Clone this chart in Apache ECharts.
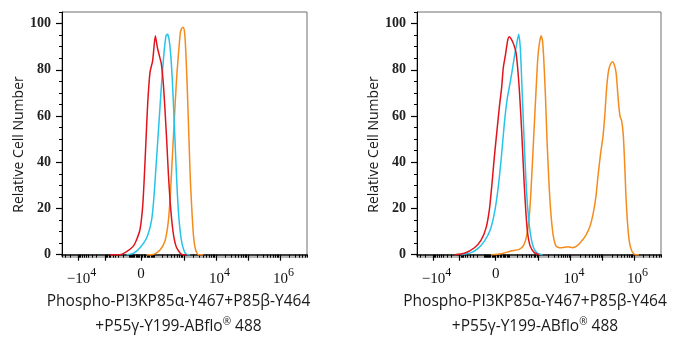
<!DOCTYPE html>
<html>
<head>
    <meta charset="UTF-8">
    <title>Flow histogram</title>
    <script src="https://cdn.jsdelivr.net/npm/echarts@6/dist/echarts.min.js"></script>
    <style>
        html, body { margin: 0; padding: 0; background: #fff; }
        #chart { width: 676px; height: 350px; }
    </style>
</head>
<body>
<div id="chart"></div>
<script>
    // x values are display channels (0-1024, biexponential scale), y is relative cell number
    var leftRed = [[200.6,0],[242.4,0],[270.3,1.3],[298.2,3.7],[312.1,6.6],[326.0,10.9],[337.2,20.9],[344.1,33.8],[351.1,49.6],[358.1,65.3],[367.8,78.9],[379.0,84.0],[390.1,94.7],[398.5,89.7],[406.9,86.1],[415.2,82.5],[423.6,73.9],[430.5,62.5],[437.5,49.6],[444.5,35.2],[451.4,23.8],[459.8,13.8],[468.2,7.3],[479.3,3.0],[500.2,0.1],[521.1,0]];
    var leftCyan = [[270.3,0],[298.2,0.6],[326.0,3.0],[353.9,7.3],[374.8,15.2],[384.5,25.2],[392.9,38.1],[401.3,51.0],[409.6,63.9],[418.0,76.8],[426.4,87.5],[434.7,94.7],[440.3,95.4],[447.3,93.3],[454.2,86.8],[461.2,75.4],[468.2,59.6],[475.1,42.4],[482.1,26.6],[489.1,15.2],[497.4,7.3],[507.2,2.6],[521.1,0.1],[535.0,0]];
    var leftOrange = [[353.9,0],[381.7,0.1],[409.6,2.0],[430.5,5.9],[444.5,14.5],[452.8,25.9],[459.8,39.5],[466.8,53.2],[473.7,66.8],[480.7,78.9],[489.1,89.7],[494.7,96.1],[503.0,98.3],[508.6,98.3],[514.1,94.0],[519.7,82.5],[525.3,66.8],[530.8,49.6],[536.4,32.4],[543.4,18.1],[550.4,7.3],[558.7,2.0],[569.9,0],[590.8,0]];

    var rightRed = [[157.5,0],[199.3,0.6],[241.1,3.0],[269.0,6.3],[289.9,11.6],[303.8,19.5],[313.6,29.5],[324.7,42.4],[335.8,53.9],[345.6,63.9],[355.4,72.5],[362.3,81.1],[370.7,86.1],[380.4,92.6],[387.4,94.3],[395.7,93.3],[405.5,91.1],[415.2,87.5],[422.2,81.1],[429.2,71.8],[436.2,59.6],[443.1,45.3],[450.1,30.2],[457.1,18.1],[464.0,9.5],[475.2,3.7],[491.9,0.9],[512.8,0]];
    var rightCyan = [[185.4,0],[227.2,0.9],[255.0,2.6],[282.9,5.9],[308.0,10.9],[327.5,19.5],[342.8,30.9],[355.4,43.8],[366.5,56.7],[377.7,66.8],[387.4,72.5],[397.2,78.2],[408.3,85.4],[418.1,91.1],[426.4,95.4],[433.4,89.7],[438.9,76.8],[444.5,62.5],[450.1,48.1],[457.1,32.4],[464.0,20.9],[475.2,9.5],[489.1,3.0],[505.8,0.6],[526.7,0]];
    var rightOrange = [[310.8,0],[352.6,0.4],[394.4,1.6],[429.2,2.3],[447.3,4.0],[461.2,8.7],[472.4,18.1],[479.3,29.5],[486.3,43.8],[493.3,58.2],[500.3,72.5],[507.2,85.4],[514.2,91.8],[521.1,94.7],[526.7,92.6],[532.3,84.0],[539.2,68.2],[546.2,48.1],[554.6,29.5],[562.9,16.6],[572.7,7.7],[583.8,3.7],[600.6,3.0],[617.3,3.2],[634.0,3.4],[652.1,3.0],[670.2,3.7],[686.9,5.4],[707.8,8.3],[726.0,12.3],[739.9,18.1],[751.0,25.2],[760.8,35.2],[770.6,43.8],[780.3,51.0],[788.7,61.0],[795.6,71.8],[804.0,79.7],[812.4,82.5],[820.7,83.5],[829.1,81.8],[836.1,78.2],[841.6,71.1],[847.2,63.9],[852.8,59.6],[858.3,58.2],[865.3,52.4],[870.9,41.0],[876.4,26.6],[883.4,13.8],[891.8,5.2],[901.5,1.6],[914.1,0.1],[930.8,0]];

    // axis ticks (fluorescence values) and labels
    var majorTickValues = [-1e4, -1e3, 0, 1e3, 1e4, 1e5, 1e6];
    var decades = [10, 100, 1000, 10000, 100000, 1000000];
    var labelValues = [-1e4, 0, 1e4, 1e6];
    var labelTexts = ['{p| }{b|\u221210}{s|4}', '{b|0}', '{p| }{b|10}{s|4}', '{p| }{b|10}{s|6}'];
    var yTickValues = [0, 20, 40, 60, 80, 100];
    var yMinorValues = [5, 10, 15, 25, 30, 35, 45, 50, 55, 65, 70, 75, 85, 90, 95, 105];

    var xName = '{a|Phospho-PI3KP85\u03b1-Y467+P85\u03b2-Y464}\n{a|+P55\u03b3-Y199-ABflo}{r|\u00ae}{a| 488}';
    var yName = 'Relative Cell Number';

    // biexponential-like display transform: value -> channel
    function toChannel(v) {
        var c = v >= 0 ? 133.5 : 111.8;
        var s = Math.asinh(Math.abs(v) / 89) / Math.LN10 * c;
        return v >= 0 ? 330 + s : 330 - s;
    }
    var majorTicks = majorTickValues.map(toChannel);
    var minorTicks = [];
    decades.forEach(function (d) {
        for (var k = 1; k <= 9; k++) {
            [k * d, -k * d].forEach(function (v) {
                if (majorTickValues.indexOf(v) >= 0) return;
                var c = toChannel(v);
                if (c >= 0 && c <= 1024) minorTicks.push(c);
            });
        }
    });
    var labelPos = labelValues.map(toChannel);

    var chart = echarts.init(document.getElementById('chart'));

    var lineColors = { red: '#e0141c', cyan: '#26c3ea', orange: '#f58b1c' };
    var serif = '"Liberation Serif", "DejaVu Serif", serif';
    var sans = '"Open Sans", "Noto Sans", sans-serif';

    function gridRect(left, width) {
        return { left: left, top: 12, width: width, height: 245, show: false, containLabel: false };
    }

    var grids = [
        Object.assign(gridRect(62, 245), { show: true, borderColor: '#6f6f6f', borderWidth: 1 }),
        gridRect(62, 245),
        Object.assign(gridRect(417, 244), { show: true, borderColor: '#6f6f6f', borderWidth: 1 }),
        gridRect(417, 244)
    ];

    function mainX(g, padRight) {
        return {
            type: 'value', gridIndex: g, min: 0, max: 1024, position: 'bottom',
            name: xName, nameLocation: 'middle', nameGap: 32,
            nameTextStyle: {
                padding: [0, padRight, 0, 0],
                rich: {
                    a: { fontFamily: sans, fontSize: 15.5, color: '#1a1a1a', lineHeight: 25 },
                    r: { fontFamily: sans, fontSize: 10, color: '#1a1a1a', lineHeight: 25, padding: [0, 0, 8, 0] }
                }
            },
            axisLine: { show: true, lineStyle: { color: '#000', width: 1.5 } },
            axisTick: { show: true, customValues: minorTicks, length: 3, lineStyle: { color: '#000' } },
            axisLabel: {
                show: true, customValues: labelPos, margin: 10,
                formatter: function (val) {
                    for (var i = 0; i < labelPos.length; i++) {
                        if (Math.abs(labelPos[i] - val) < 0.01) return labelTexts[i];
                    }
                    return '';
                },
                rich: {
                    p: { fontSize: 10, width: 7 },
                    b: { fontFamily: serif, fontSize: 15, color: '#111' },
                    s: { fontFamily: serif, fontSize: 12, color: '#111', padding: [0, 0, 12, 0] }
                }
            },
            splitLine: { show: false }
        };
    }
    function overlayX(g) {
        return {
            type: 'value', gridIndex: g, min: 0, max: 1024, position: 'bottom',
            axisLine: { show: false },
            axisTick: { show: true, customValues: majorTicks, length: 6, lineStyle: { color: '#000', width: 1.2 } },
            axisLabel: { show: false },
            splitLine: { show: false }
        };
    }
    function mainY(g) {
        return {
            type: 'value', gridIndex: g, min: -1, max: 105,
            name: yName, nameLocation: 'middle', nameGap: 36,
            nameTextStyle: { fontFamily: sans, fontSize: 14, color: '#1a1a1a', padding: [0, 20, 0, 0] },
            axisLine: { show: true, lineStyle: { color: '#000', width: 1 } },
            axisTick: { show: true, customValues: yTickValues, length: 6, lineStyle: { color: '#000', width: 1.2 } },
            axisLabel: { show: true, customValues: yTickValues, margin: 11, fontFamily: serif, fontSize: 14, fontWeight: 'bold', color: '#222' },
            splitLine: { show: false }
        };
    }
    function overlayY(g) {
        return {
            type: 'value', gridIndex: g, min: -1, max: 105,
            axisLine: { show: false },
            axisTick: { show: true, customValues: yMinorValues, length: 3, lineStyle: { color: '#000' } },
            axisLabel: { show: false },
            splitLine: { show: false }
        };
    }

    function line(data, color, axis) {
        return {
            type: 'line', data: data, xAxisIndex: axis, yAxisIndex: axis,
            showSymbol: false, smooth: 0.2, animation: false,
            lineStyle: { color: color, width: 1.5 }
        };
    }

    chart.setOption({
        animation: false,
        grid: grids,
        xAxis: [mainX(0, 12), overlayX(1), mainX(2, 8), overlayX(3)],
        yAxis: [mainY(0), overlayY(1), mainY(2), overlayY(3)],
        series: [
            line(leftOrange, lineColors.orange, 0),
            line(leftCyan, lineColors.cyan, 0),
            line(leftRed, lineColors.red, 0),
            line(rightOrange, lineColors.orange, 2),
            line(rightCyan, lineColors.cyan, 2),
            line(rightRed, lineColors.red, 2)
        ]
    });
</script>
</body>
</html>
